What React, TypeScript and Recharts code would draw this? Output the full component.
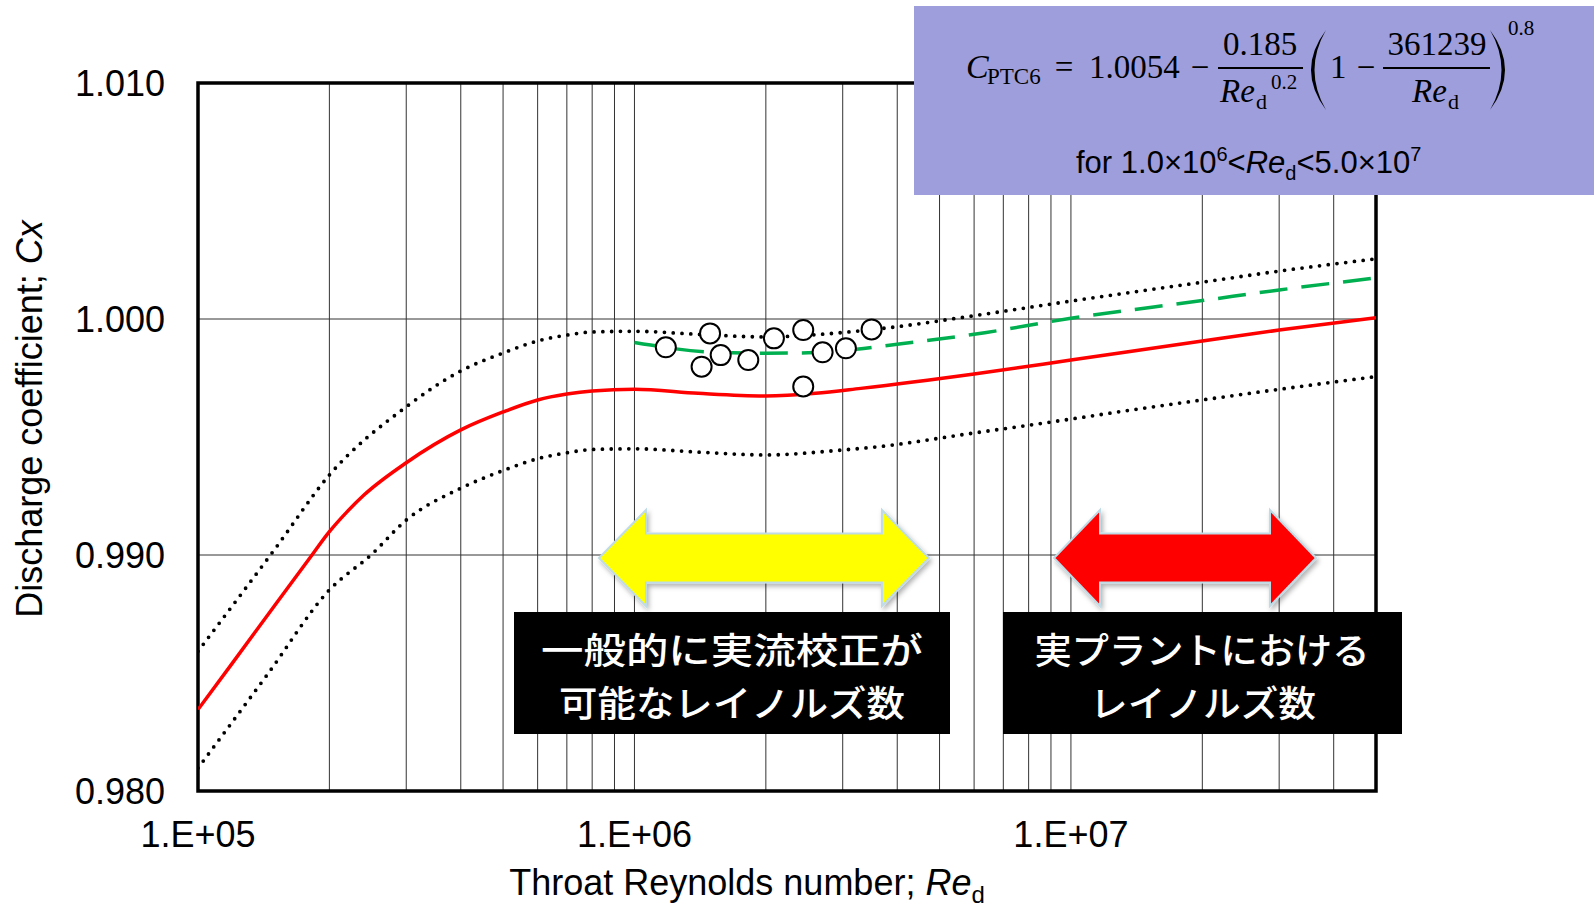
import {
  ComposedChart,
  Line,
  Scatter,
  XAxis,
  YAxis,
  CartesianGrid,
  ReferenceArea,
} from 'recharts';

// Throat Reynolds number gridlines (log decades with 2..9 sub-lines)
const reTicks = [
  1e5, 2e5, 3e5, 4e5, 5e5, 6e5, 7e5, 8e5, 9e5,
  1e6, 2e6, 3e6, 4e6, 5e6, 6e6, 7e6, 8e6, 9e6,
  1e7, 2e7, 3e7, 4e7, 5e7,
];
const reDecadeLabels: Record<number, string> = {
  100000: '1.E+05',
  1000000: '1.E+06',
  10000000: '1.E+07',
};
const cxTicks = [0.98, 0.99, 1.0, 1.01];

// PTC6 discharge coefficient curve
const ptc6Curve = [
  { re: 1e5, c: 0.98345 },
  { re: 1.2e5, c: 0.98543 },
  { re: 1.5e5, c: 0.98787 },
  { re: 1.8e5, c: 0.98985 },
  { re: 2e5, c: 0.99099 },
  { re: 2.2e5, c: 0.99185 },
  { re: 2.4e5, c: 0.99254 },
  { re: 3e5, c: 0.99391 },
  { re: 4e5, c: 0.9953 },
  { re: 5e5, c: 0.99606 },
  { re: 6e5, c: 0.99657 },
  { re: 7e5, c: 0.99682 },
  { re: 8e5, c: 0.99695 },
  { re: 1e6, c: 0.99702 },
  { re: 1.4e6, c: 0.99685 },
  { re: 2e6, c: 0.99674 },
  { re: 2.6e6, c: 0.99685 },
  { re: 3.3e6, c: 0.99706 },
  { re: 6e6, c: 0.99767 },
  { re: 1e7, c: 0.99826 },
  { re: 2e7, c: 0.99907 },
  { re: 3e7, c: 0.99953 },
  { re: 5e7, c: 1.00005 },
];

// uncertainty band
const upperBand = [
  { re: 1e5, c: 0.98592 },
  { re: 1.5e5, c: 0.99025 },
  { re: 2e5, c: 0.99339 },
  { re: 3e5, c: 0.99628 },
  { re: 4e5, c: 0.9978 },
  { re: 5e5, c: 0.99856 },
  { re: 6e5, c: 0.99907 },
  { re: 7e5, c: 0.99932 },
  { re: 8e5, c: 0.99945 },
  { re: 1e6, c: 0.99948 },
  { re: 1.4e6, c: 0.99935 },
  { re: 2e6, c: 0.99924 },
  { re: 2.8e6, c: 0.99938 },
  { re: 3.9e6, c: 0.99965 },
  { re: 6e6, c: 1.00014 },
  { re: 1e7, c: 1.00076 },
  { re: 2e7, c: 1.00156 },
  { re: 3e7, c: 1.00203 },
  { re: 5e7, c: 1.00255 },
];
const lowerBand = [
  { re: 1e5, c: 0.98097 },
  { re: 1.44e5, c: 0.98492 },
  { re: 2e5, c: 0.98852 },
  { re: 2.5e5, c: 0.99003 },
  { re: 3e5, c: 0.99148 },
  { re: 4e5, c: 0.99283 },
  { re: 5e5, c: 0.99358 },
  { re: 6e5, c: 0.99408 },
  { re: 7e5, c: 0.99433 },
  { re: 8e5, c: 0.99447 },
  { re: 1e6, c: 0.9945 },
  { re: 1.4e6, c: 0.99436 },
  { re: 2e6, c: 0.99424 },
  { re: 3e6, c: 0.99445 },
  { re: 3.5e6, c: 0.99456 },
  { re: 6e6, c: 0.99517 },
  { re: 1e7, c: 0.99576 },
  { re: 1.37e7, c: 0.99614 },
  { re: 2e7, c: 0.99657 },
  { re: 3e7, c: 0.99702 },
  { re: 5e7, c: 0.99756 },
];

// fitted curve through calibration results
const fitCurve = [
  { re: 1e6, c: 0.999 },
  { re: 1.5e6, c: 0.9986 },
  { re: 2e6, c: 0.99855 },
  { re: 2.5e6, c: 0.99857 },
  { re: 3e6, c: 0.99866 },
  { re: 4e6, c: 0.99893 },
  { re: 6e6, c: 0.99935 },
  { re: 1e7, c: 1.00003 },
  { re: 2e7, c: 1.00078 },
  { re: 3e7, c: 1.00123 },
  { re: 5e7, c: 1.00174 },
];

// calibration results
const calibPoints = [
  { re: 1.18e6, c: 0.9988 },
  { re: 1.49e6, c: 0.99939 },
  { re: 1.425e6, c: 0.99798 },
  { re: 1.576e6, c: 0.99847 },
  { re: 1.823e6, c: 0.99826 },
  { re: 2.087e6, c: 0.99918 },
  { re: 2.436e6, c: 0.99953 },
  { re: 2.436e6, c: 0.99714 },
  { re: 2.698e6, c: 0.99859 },
  { re: 3.051e6, c: 0.99876 },
  { re: 3.494e6, c: 0.99956 },
];

const SANS = '"Liberation Sans", Arial, sans-serif';
const SERIF = '"Liberation Serif", "Times New Roman", serif';
const JP = '"Noto Sans CJK JP", sans-serif';

function arrowPoints(x1: number, x2: number, head: number, y: number) {
  const hh = 48;
  const sh = 24.5;
  return [
    [x1, y], [x1 + head, y - hh], [x1 + head, y - sh], [x2 - head, y - sh],
    [x2 - head, y - hh], [x2, y], [x2 - head, y + hh], [x2 - head, y + sh],
    [x1 + head, y + sh], [x1 + head, y + hh],
  ].map((p) => p.join(',')).join(' ');
}

function CalibMarker(props: any) {
  const { cx, cy } = props;
  return <circle cx={cx} cy={cy} r={10} fill="#fff" stroke="#000" strokeWidth={2} />;
}

function Annotations() {
  return (
    <svg
      width={1594}
      height={909}
      style={{ position: 'absolute', left: 0, top: 0, pointerEvents: 'none' }}
    >
      <defs>
        <filter id="arrowShadow" x="-10%" y="-30%" width="125%" height="160%">
          <feDropShadow dx="2" dy="3" stdDeviation="2.5" floodColor="#000" floodOpacity="0.3" />
        </filter>
      </defs>

      {/* axis titles */}
      <text
        transform="translate(29,419) rotate(-90)"
        textAnchor="middle"
        dominantBaseline="central"
        fontFamily={SANS}
        fontSize={36}
        fill="#000"
      >
        Discharge coefficient; <tspan fontStyle="italic">Cx</tspan>
      </text>
      <text x={747} y={895} textAnchor="middle" fontFamily={SANS} fontSize={36} fill="#000">
        Throat Reynolds number; <tspan fontStyle="italic">Re</tspan>
        <tspan fontSize={24} dy={8}>d</tspan>
      </text>

      {/* range arrows */}
      <polygon
        points={arrowPoints(599, 929, 47, 558)}
        fill="#ffff00"
        stroke="#bfdbe6"
        strokeWidth={2}
        filter="url(#arrowShadow)"
      />
      <polygon
        points={arrowPoints(1054, 1316, 46, 558)}
        fill="#ff0000"
        stroke="#bfdbe6"
        strokeWidth={2}
        filter="url(#arrowShadow)"
      />

      {/* range captions */}
      <rect x={514} y={612} width={436} height={122} fill="#000" />
      <text x={732} y={648} textAnchor="middle" dominantBaseline="central" fontFamily={JP}
        fontWeight={500} fontSize={36} fill="#fff" textLength={382} lengthAdjust="spacingAndGlyphs">
        一般的に実流校正が
      </text>
      <text x={732} y={701} textAnchor="middle" dominantBaseline="central" fontFamily={JP}
        fontWeight={500} fontSize={36} fill="#fff" textLength={346} lengthAdjust="spacingAndGlyphs">
        可能なレイノルズ数
      </text>
      <rect x={1003} y={612} width={399} height={122} fill="#000" />
      <text x={1202} y={648} textAnchor="middle" dominantBaseline="central" fontFamily={JP}
        fontWeight={500} fontSize={36} fill="#fff" textLength={335} lengthAdjust="spacingAndGlyphs">
        実プラントにおける
      </text>
      <text x={1203} y={701} textAnchor="middle" dominantBaseline="central" fontFamily={JP}
        fontWeight={500} fontSize={36} fill="#fff" textLength={226} lengthAdjust="spacingAndGlyphs">
        レイノルズ数
      </text>

      {/* PTC6 equation */}
      <rect x={914} y={6} width={680} height={189} fill="#9e9edd" />
      <g fontFamily={SERIF} fill="#000">
        <text x={966} y={78} fontSize={34} fontStyle="italic">C</text>
        <text x={987} y={84} fontSize={23}>PTC6</text>
        <text x={1064} y={78} fontSize={33} textAnchor="middle">=</text>
        <text x={1089} y={78} fontSize={33}>1.0054</text>
        <text x={1200} y={78} fontSize={33} textAnchor="middle">−</text>
        <text x={1260} y={55} fontSize={33} textAnchor="middle">0.185</text>
        <line x1={1218} x2={1303} y1={68} y2={68} stroke="#000" strokeWidth={2} />
        <text x={1220} y={102} fontSize={33} fontStyle="italic">Re</text>
        <text x={1256} y={109} fontSize={22}>d</text>
        <text x={1271} y={89} fontSize={21}>0.2</text>
        <path d="M1326,30 Q1296,70 1326,110 Q1303,70 1326,30 Z" fill="#000" />
        <text x={1330} y={78} fontSize={33}>1</text>
        <text x={1366} y={78} fontSize={33} textAnchor="middle">−</text>
        <text x={1437} y={55} fontSize={33} textAnchor="middle">361239</text>
        <line x1={1383} x2={1490} y1={68} y2={68} stroke="#000" strokeWidth={2} />
        <text x={1412} y={102} fontSize={33} fontStyle="italic">Re</text>
        <text x={1448} y={109} fontSize={22}>d</text>
        <path d="M1490,30 Q1520,70 1490,110 Q1513,70 1490,30 Z" fill="#000" />
        <text x={1508} y={35} fontSize={21}>0.8</text>
      </g>
      <text x={1076} y={173} fontFamily={SANS} fontSize={31} fill="#000">
        for 1.0×10<tspan fontSize={20} dy={-12}>6</tspan>
        <tspan dy={12}>&lt;</tspan>
        <tspan fontStyle="italic">Re</tspan>
        <tspan fontSize={20} dy={7}>d</tspan>
        <tspan dy={-7}>&lt;5.0×10</tspan>
        <tspan fontSize={20} dy={-12}>7</tspan>
      </text>
    </svg>
  );
}

export default function App() {
  return (
    <div style={{ position: 'absolute', left: 0, top: 0, width: 1594, height: 909, background: '#fff' }}>
      <ComposedChart
        width={1594}
        height={909}
        margin={{ top: 83, right: 218, left: 48, bottom: 58 }}
      >
        <CartesianGrid stroke="#333" strokeWidth={1} />
        <XAxis
          dataKey="re"
          type="number"
          scale="log"
          domain={[1e5, 5e7]}
          allowDataOverflow
          ticks={reTicks}
          interval={0}
          height={60}
          axisLine={false}
          tickLine={false}
          tickSize={0}
          tickMargin={30}
          tickFormatter={(v: number) => reDecadeLabels[Math.round(v)] ?? ''}
          tick={{ fill: '#000', fontSize: 36, fontFamily: SANS }}
        />
        <YAxis
          dataKey="c"
          type="number"
          domain={[0.98, 1.01]}
          allowDataOverflow
          ticks={cxTicks}
          interval={0}
          width={150}
          axisLine={false}
          tickLine={false}
          tickSize={0}
          tickMargin={33}
          tickFormatter={(v: number) => v.toFixed(3)}
          tick={{ fill: '#000', fontSize: 36, fontFamily: SANS }}
        />
        <Line
          data={lowerBand}
          dataKey="c"
          type="monotone"
          stroke="#000"
          strokeWidth={3.8}
          strokeDasharray="0 8.8"
          strokeLinecap="round"
          dot={false}
          activeDot={false}
          isAnimationActive={false}
        />
        <Line
          data={upperBand}
          dataKey="c"
          type="monotone"
          stroke="#000"
          strokeWidth={3.8}
          strokeDasharray="0 8.8"
          strokeLinecap="round"
          dot={false}
          activeDot={false}
          isAnimationActive={false}
        />
        <Line
          data={ptc6Curve}
          dataKey="c"
          type="monotone"
          stroke="#ff0000"
          strokeWidth={3.5}
          dot={false}
          activeDot={false}
          isAnimationActive={false}
        />
        <Line
          data={fitCurve}
          dataKey="c"
          type="monotone"
          stroke="#00b050"
          strokeWidth={3.5}
          strokeDasharray="28 14"
          dot={false}
          activeDot={false}
          isAnimationActive={false}
        />
        <Scatter
          data={calibPoints}
          dataKey="c"
          shape={CalibMarker}
          isAnimationActive={false}
        />
        <ReferenceArea
          x1={1e5}
          x2={5e7}
          y1={0.98}
          y2={1.01}
          fill="none"
          stroke="#000"
          strokeWidth={3.5}
          ifOverflow="visible"
        />
      </ComposedChart>
      <Annotations />
    </div>
  );
}
